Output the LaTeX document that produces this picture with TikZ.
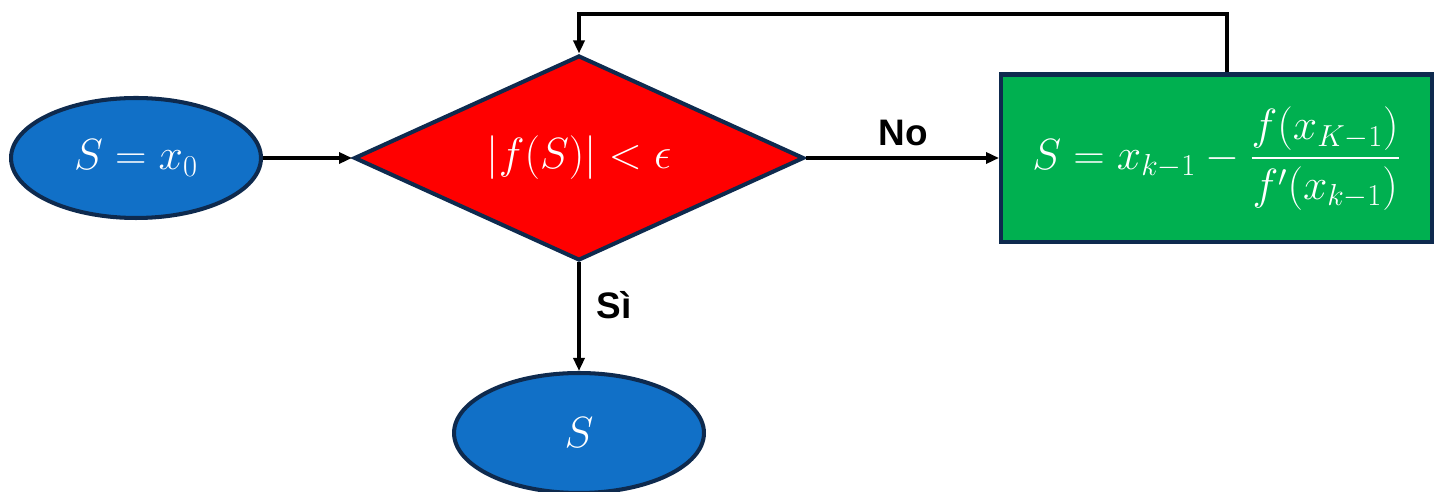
\documentclass[tikz,border=0pt]{standalone}
\usepackage{amsmath}
\usepackage{fontspec}
\setsansfont{Liberation Sans}
\usetikzlibrary{shapes.geometric,arrows.meta}
\definecolor{nodeblue}{RGB}{17,112,199}
\definecolor{navyline}{RGB}{14,42,78}
\definecolor{decred}{RGB}{255,0,0}
\definecolor{stepgreen}{RGB}{0,176,80}
\tikzset{
  shapeline/.style={draw=navyline, line width=2.3pt, text=white, font=\fontsize{25}{30}\selectfont, inner sep=0pt},
  termnode/.style={shapeline, ellipse, fill=nodeblue, minimum width=5.0cm, minimum height=2.4cm},
  decnode/.style={shapeline, diamond, fill=decred, minimum width=9.0cm, minimum height=4.1cm},
  calcnode/.style={shapeline, rectangle, fill=stepgreen, minimum width=8.62cm, minimum height=3.36cm},
  conn/.style={line width=2pt, -{Triangle[length=0.26cm,width=0.22cm]}},
  plainconn/.style={line width=2pt},
  branchlabel/.style={font=\sffamily\bfseries\fontsize{21}{25}\selectfont, text=black}
}
\begin{document}
\begin{tikzpicture}[x=0.02cm, y=-0.02cm]
\useasboundingbox (0,0) rectangle (1435,492);
\node[termnode] (start) at (136,158) {$S = x_0$};
\node[decnode] (dec) at (579,158) {\smash{\makebox[0pt]{\raisebox{-0.25em}{$|f(S)| < \epsilon$}}}};
\node[calcnode] (calc) at (1216.5,158.5) {$S = x_{k-1} - \dfrac{f(x_{K-1})}{f'(x_{k-1})}$};
\node[termnode] (final) at (579,433) {$S$};
\coordinate (fbr) at (1227,14);
\coordinate (fbl) at (579,14);
\draw[conn] (start) -- (dec.west);
\draw[conn] (dec.east) -- (calc.west |- dec.east);
\draw[conn] (dec.south) -- (final.north);
\draw[plainconn] (calc.north -| fbr) -- (fbr) -- (fbl);
\draw[conn] ([yshift=1pt]fbl) -- (dec.north);
\node[branchlabel] (nolabel) at (903,133) {No};
\node[branchlabel] (silabel) at (614,305) {Sì};
\end{tikzpicture}
\end{document}
